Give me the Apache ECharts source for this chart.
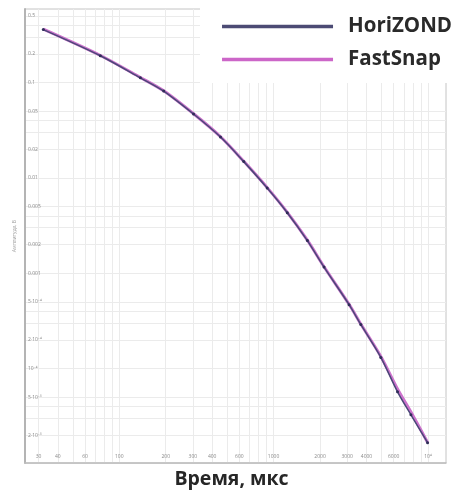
<!DOCTYPE html>
<html>
<head>
<meta charset="utf-8">
<script src="https://cdn.jsdelivr.net/npm/echarts@6/dist/echarts.min.js"></script>
<style>
html,body{margin:0;padding:0;background:#fff;}
#chart{width:455px;height:494px;}
</style>
</head>
<body>
<div id="chart"></div>
<script>
// Time, microseconds
var times = [32.2, 75.4, 137, 194, 303, 453, 641, 909, 1227, 1655, 2123, 3085, 3674, 4954, 6355, 7762, 9954];
var horizond = [0.359, 0.191, 0.112, 0.0813, 0.0467, 0.0268, 0.0148, 0.00782, 0.00431, 0.00220, 0.00116, 4.68e-4, 2.9e-4, 1.31e-4, 5.7e-5, 3.27e-5, 1.67e-5];
var fastsnap = [0.362, 0.192, 0.113, 0.0818, 0.0470, 0.0270, 0.0149, 0.00790, 0.00435, 0.00222, 0.00117, 4.72e-4, 2.93e-4, 1.34e-4, 6.1e-5, 3.5e-5, 1.68e-5];

var xTickValues = [30, 40, 60, 100, 200, 300, 400, 600, 1000, 2000, 3000, 4000, 6000, 10000];
var xTickLabels = ['30', '40', '60', '100', '200', '300', '400', '600', '1000', '2000', '3000', '4000', '6000', '10⁴'];
var xGridValues = [30, 40, 50, 60, 70, 80, 90, 100, 200, 300, 400, 500, 600, 700, 800, 900, 1000, 2000, 3000, 4000, 5000, 6000, 7000, 8000, 9000, 10000];

var yTickValues = [0.5, 0.2, 0.1, 0.05, 0.02, 0.01, 0.005, 0.002, 0.001, 5e-4, 2e-4, 1e-4, 5e-5, 2e-5];
var yTickLabels = ['0.5', '0.2', '0.1', '0.05', '0.02', '0.01', '0.005', '0.002', '0.001', '5·10⁻⁴', '2·10⁻⁴', '10⁻⁴', '5·10⁻⁵', '2·10⁻⁵'];
var yGridValues = [0.5, 0.4, 0.3, 0.2, 0.1, 0.05, 0.04, 0.03, 0.02, 0.01, 0.005, 0.004, 0.003, 0.002, 0.001, 5e-4, 4e-4, 3e-4, 2e-4, 1e-4, 5e-5, 4e-5, 3e-5, 2e-5];

var seriesNames = ['HoriZOND', 'FastSnap'];
var seriesColors = ['#4c4b74', '#cc66c8'];

function pairs(xs, ys) { return xs.map(function (x, i) { return [x, ys[i]]; }); }
function lookup(vals, labels) {
  return function (v) {
    for (var i = 0; i < vals.length; i++) {
      if (Math.abs(vals[i] - v) / vals[i] < 1e-6) return labels[i];
    }
    return '';
  };
}

var chart = echarts.init(document.getElementById('chart'), null, {renderer: 'canvas'});
chart.setOption({
  animation: false,
  backgroundColor: '#fff',
  textStyle: {fontFamily: 'Open Sans'},
  grid: {left: 25, right: 9, top: 9, bottom: 26, show: true, borderColor: '#c4c4c4', borderWidth: 1},
  legend: {
    data: seriesNames.map(function (n, i) { return {name: n, itemStyle: {color: seriesColors[i]}}; }),
    orient: 'vertical',
    right: 0,
    top: 0,
    backgroundColor: '#fff',
    padding: [10, 3, 7, 22],
    itemGap: 0,
    itemWidth: 111,
    itemHeight: 3.5,
    icon: 'rect',
    textStyle: {fontSize: 20.5, fontWeight: 'bold', color: '#2a2a2a', fontFamily: 'Open Sans', lineHeight: 25, padding: [0, 0, 8, 10]}
  },
  xAxis: {
    type: 'log',
    min: 24.5,
    max: 13100,
    name: 'Время, мкс',
    nameLocation: 'middle',
    nameGap: 4,
    nameTextStyle: {fontSize: 19.5, fontWeight: 'bold', color: '#262626', fontFamily: 'Open Sans', verticalAlign: 'top', padding: [0, 8, 0, 0]},
    axisLine: {show: true, lineStyle: {color: '#bdbdbd', width: 1.5}},
    axisTick: {show: false, customValues: xGridValues},
    axisLabel: {inside: true, customValues: xTickValues, formatter: lookup(xTickValues, xTickLabels), fontSize: 5, color: '#8a8a8a', margin: 4},
    splitLine: {show: true, lineStyle: {color: '#ebebeb', width: 1}},
    minorTick: {show: false},
    minorSplitLine: {show: false}
  },
  yAxis: {
    type: 'log',
    min: 1.02e-5,
    max: 0.59,
    name: 'Амплитуда, В',
    nameLocation: 'middle',
    nameRotate: 90,
    nameGap: 5,
    nameTextStyle: {fontSize: 5, color: '#9a9a9a'},
    axisLine: {show: true, lineStyle: {color: '#b4b4b4', width: 2}},
    axisTick: {show: false, customValues: yGridValues},
    axisLabel: {inside: true, customValues: yTickValues, formatter: lookup(yTickValues, yTickLabels), fontSize: 5, color: '#8a8a8a', margin: 3},
    splitLine: {show: true, lineStyle: {color: '#ebebeb', width: 1}}
  },
  series: [
    {
      name: 'FastSnap',
      type: 'line',
      data: pairs(times, fastsnap),
      smooth: 0.3,
      showSymbol: false,
      symbol: 'none',
      lineStyle: {color: '#cc72cc', width: 3},
      itemStyle: {color: seriesColors[1]},
      z: 2
    },
    {
      name: 'HoriZOND',
      type: 'line',
      data: pairs(times, horizond),
      smooth: 0.3,
      symbol: 'circle',
      symbolSize: 3,
      lineStyle: {color: '#4a4878', width: 1.5},
      itemStyle: {color: '#2f2d58'},
      z: 3
    }
  ]
});
</script>
</body>
</html>
